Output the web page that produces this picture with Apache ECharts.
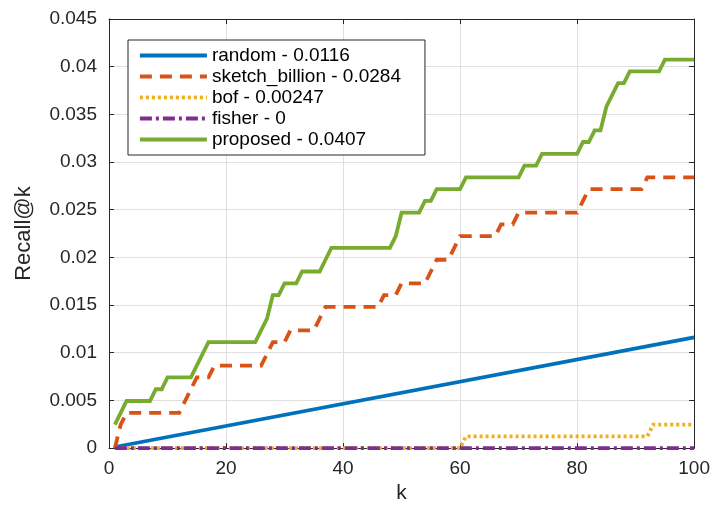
<!DOCTYPE html>
<html>
<head>
<meta charset="utf-8">
<script src="https://cdn.jsdelivr.net/npm/echarts@6/dist/echarts.min.js"></script>
<style>
html,body{margin:0;padding:0;background:#fff;}
#chart{width:713px;height:509px;}
</style>
</head>
<body>
<div id="chart"></div>
<script>
// ---- data ----
var seriesNames = ['random - 0.0116', 'sketch_billion - 0.0284', 'bof - 0.00247', 'fisher - 0', 'proposed - 0.0407'];
var xTicks = [0, 20, 40, 60, 80, 100];
var yTicks = [0, 0.005, 0.01, 0.015, 0.02, 0.025, 0.03, 0.035, 0.04, 0.045];

// random: straight line, endpoints
var randomK = [1, 100];
var randomV = [0.000116, 0.0116];

// sketch_billion: recall@k for k = 1..100
var sketchV = [
  0, 0.00247, 0.0037, 0.0037, 0.0037, 0.0037, 0.0037, 0.0037, 0.0037, 0.0037,
  0.0037, 0.0037, 0.00494, 0.00617, 0.00741, 0.00741, 0.00741, 0.00864, 0.00864, 0.00864,
  0.00864, 0.00864, 0.00864, 0.00864, 0.00864, 0.00864, 0.00988, 0.01111, 0.01111, 0.01111,
  0.01235, 0.01235, 0.01235, 0.01235, 0.01235, 0.01358, 0.01481, 0.01481, 0.01481, 0.01481,
  0.01481, 0.01481, 0.01481, 0.01481, 0.01481, 0.01481, 0.01605, 0.01605, 0.01605, 0.01728,
  0.01728, 0.01728, 0.01728, 0.01728, 0.01852, 0.01975, 0.01975, 0.01975, 0.02099, 0.02222,
  0.02222, 0.02222, 0.02222, 0.02222, 0.02222, 0.02222, 0.02346, 0.02346, 0.02346, 0.02469,
  0.02469, 0.02469, 0.02469, 0.02469, 0.02469, 0.02469, 0.02469, 0.02469, 0.02469, 0.02469,
  0.02593, 0.02716, 0.02716, 0.02716, 0.02716, 0.02716, 0.02716, 0.02716, 0.02716, 0.02716,
  0.02716, 0.0284, 0.0284, 0.0284, 0.0284, 0.0284, 0.0284, 0.0284, 0.0284, 0.0284
];

// bof: step corners
var bofK = [1, 60, 61, 92, 93, 100];
var bofV = [0, 0, 0.00123, 0.00123, 0.00247, 0.00247];

// fisher: all zero
var fisherK = [1, 100];
var fisherV = [0, 0];

// proposed: recall@k for k = 1..100
var proposedV = [
  0.00247, 0.0037, 0.00494, 0.00494, 0.00494, 0.00494, 0.00494, 0.00617, 0.00617, 0.00741,
  0.00741, 0.00741, 0.00741, 0.00741, 0.00864, 0.00988, 0.01111, 0.01111, 0.01111, 0.01111,
  0.01111, 0.01111, 0.01111, 0.01111, 0.01111, 0.01235, 0.01358, 0.01605, 0.01605, 0.01728,
  0.01728, 0.01728, 0.01852, 0.01852, 0.01852, 0.01852, 0.01975, 0.02099, 0.02099, 0.02099,
  0.02099, 0.02099, 0.02099, 0.02099, 0.02099, 0.02099, 0.02099, 0.02099, 0.02222, 0.02469,
  0.02469, 0.02469, 0.02469, 0.02593, 0.02593, 0.02716, 0.02716, 0.02716, 0.02716, 0.02716,
  0.0284, 0.0284, 0.0284, 0.0284, 0.0284, 0.0284, 0.0284, 0.0284, 0.0284, 0.0284,
  0.02963, 0.02963, 0.02963, 0.03086, 0.03086, 0.03086, 0.03086, 0.03086, 0.03086, 0.03086,
  0.0321, 0.0321, 0.03333, 0.03333, 0.0358, 0.03704, 0.03827, 0.03827, 0.03951, 0.03951,
  0.03951, 0.03951, 0.03951, 0.03951, 0.04074, 0.04074, 0.04074, 0.04074, 0.04074, 0.04074
];

// ---- build ----
function pairs(ks, vs) { return vs.map(function (v, i) { return [ks[i], v]; }); }
function seqPairs(vs) { return vs.map(function (v, i) { return [i + 1, v]; }); }

var FONT = '"Liberation Sans", Arial, Helvetica, sans-serif';
var AX = '#262626';
var GRID = '#dfdfdf';
var colors = ['#0072BD', '#D95319', '#EDB120', '#7E2F8E', '#77AC30'];
var LW = 3.8;

function lineSeries(name, data, color, type) {
  return {
    name: name, type: 'line', data: data, symbol: 'none', showSymbol: false,
    animation: false, xAxisIndex: 0, yAxisIndex: 0,
    lineStyle: { color: color, width: LW, type: type, cap: 'butt', join: 'miter' },
    itemStyle: { color: color }
  };
}

var chart = echarts.init(document.getElementById('chart'), null, { renderer: 'canvas' });
var xMin = xTicks[0], xMax = xTicks[xTicks.length - 1], xInt = xTicks[1] - xTicks[0];
var yMin = yTicks[0], yMax = yTicks[yTicks.length - 1], yInt = yTicks[1] - yTicks[0];

var option = {
  animation: false,
  backgroundColor: '#ffffff',
  textStyle: { fontFamily: FONT },
  grid: { left: 109, right: 17, top: 19, bottom: 56, containLabel: false },
  legend: {
    show: true,
    left: 128, top: 40, orient: 'vertical',
    backgroundColor: '#ffffff', borderColor: AX, borderWidth: 1, borderRadius: 0,
    padding: [6, 24, 6, 10],
    itemWidth: 67, itemHeight: 12, itemGap: 2,
    itemStyle: { opacity: 0 },
    lineStyle: { width: 3.8 },
    textStyle: { fontFamily: FONT, fontSize: 19, color: '#000' },
    data: seriesNames.slice(),
    selectedMode: false,
    z: 10
  },
  xAxis: [{
    type: 'value', min: xMin, max: xMax, interval: xInt,
    name: 'k', nameLocation: 'middle', nameGap: 32,
    nameTextStyle: { fontFamily: FONT, fontSize: 21, color: AX },
    axisLine: { show: true, onZero: false, lineStyle: { color: AX, width: 1 } },
    axisTick: { show: true, inside: true, length: 5, lineStyle: { color: AX } },
    axisLabel: { fontFamily: FONT, fontSize: 19, color: AX, margin: 11 },
    splitLine: { show: true, lineStyle: { color: GRID, width: 1 } }
  }, {
    type: 'value', position: 'top', min: xMin, max: xMax, interval: xInt,
    axisLine: { show: true, onZero: false, lineStyle: { color: AX, width: 1 } },
    axisTick: { show: true, inside: true, length: 5, lineStyle: { color: AX } },
    axisLabel: { show: false }, splitLine: { show: false }
  }],
  yAxis: [{
    type: 'value', min: yMin, max: yMax, interval: yInt,
    name: 'Recall@k', nameLocation: 'middle', nameGap: 74, nameRotate: 90,
    nameTextStyle: { fontFamily: FONT, fontSize: 22, color: AX },
    axisLine: { show: true, onZero: false, lineStyle: { color: AX, width: 1 } },
    axisTick: { show: true, inside: true, length: 5, lineStyle: { color: AX } },
    axisLabel: { fontFamily: FONT, fontSize: 19, color: AX, margin: 12 },
    splitLine: { show: true, lineStyle: { color: GRID, width: 1 } }
  }, {
    type: 'value', position: 'right', min: yMin, max: yMax, interval: yInt,
    axisLine: { show: true, onZero: false, lineStyle: { color: AX, width: 1 } },
    axisTick: { show: true, inside: true, length: 5, lineStyle: { color: AX } },
    axisLabel: { show: false }, splitLine: { show: false }
  }],
  series: [
    lineSeries(seriesNames[0], pairs(randomK, randomV), colors[0], 'solid'),
    lineSeries(seriesNames[1], seqPairs(sketchV), colors[1], [12, 8]),
    lineSeries(seriesNames[2], pairs(bofK, bofV), colors[2], [3, 3]),
    lineSeries(seriesNames[3], pairs(fisherK, fisherV), colors[3], [12, 4, 3, 4]),
    lineSeries(seriesNames[4], seqPairs(proposedV), colors[4], 'solid')
  ]
};
chart.setOption(option);
</script>
</body>
</html>
